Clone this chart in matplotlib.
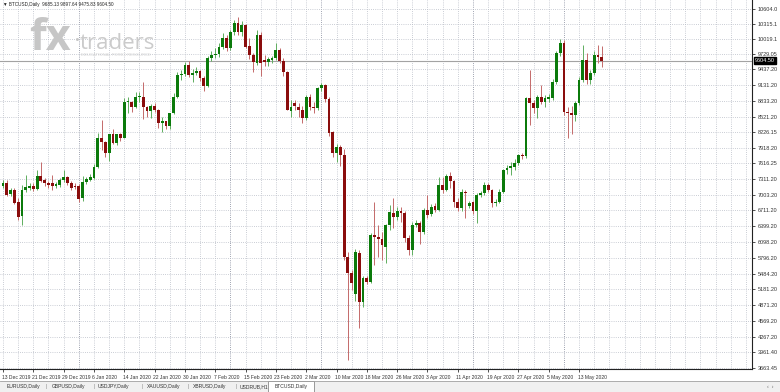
import numpy as np
import pandas as pd
import matplotlib
matplotlib.use("Agg")
import matplotlib.pyplot as plt
from matplotlib.patches import Rectangle
from matplotlib.transforms import blended_transform_factory, ScaledTranslation

plt.rcParams['font.family'] = ['Liberation Sans', 'DejaVu Sans']

# BTCUSD daily bars, one per day starting 13 Dec 2019
first_day = "2019-12-13"
opens = [7190, 7240, 7020, 7100, 6870, 6600, 7110, 7150, 7190, 7130,
         7380, 7290, 7240, 7230, 7190, 7200, 7290, 7350, 7240, 7190,
         7180, 6940, 7260, 7300, 7340, 7550, 8100, 8040, 7810, 8190,
         8020, 8180, 8110, 8810, 8810, 8710, 8900, 8910, 8700, 8630,
         8730, 8660, 8390, 8430, 8340, 8590, 8900, 9330, 9340, 9521,
         9330, 9360, 9400, 9264, 9120, 9650, 9714, 9730, 9875, 10040,
         9850, 10165, 10330, 10160, 10295, 9890, 9714, 9560, 10101, 9620,
         9570, 9620, 9650, 9811, 9590, 9380, 8640, 8780, 8714, 8650,
         8490, 8908, 8700, 8690, 9070, 9134, 8860, 8230, 7810, 7940,
         7780, 5813, 5492, 5100, 5880, 4943, 5395, 5330, 6234, 6200,
         6150, 6010, 6427, 6665, 6590, 6700, 6660, 6170, 5943, 6427,
         6470, 6300, 6717, 6640, 6790, 6717, 7200, 7104, 7370, 7280,
         6877, 6750, 7070, 6790, 6877, 6690, 7010, 7040, 7200, 7104,
         6850, 6880, 7070, 7490, 7520, 7550, 7620, 7790, 7760, 8877,
         8780, 8684, 8908, 8810, 8860, 8890, 9198, 9750, 9940, 8620,
         8590, 8560, 8780, 9231, 9618, 9231, 9360, 9714, 9685.13]
highs = [7300, 7300, 7140, 7140, 6950, 7200, 7390, 7230, 7230, 7500,
         7640, 7330, 7280, 7390, 7260, 7340, 7490, 7380, 7280, 7230,
         7220, 7380, 7350, 7420, 7600, 8200, 8450, 8050, 8190, 8290,
         8190, 8200, 8880, 8900, 8830, 9000, 8990, 9190, 8720, 8760,
         8790, 8670, 8520, 8440, 8600, 8980, 9390, 9420, 9580, 9600,
         9450, 9480, 9430, 9300, 9700, 9800, 9850, 9950, 10140, 10100,
         10200, 10390, 10455, 10380, 10320, 10050, 9750, 10200, 10150, 9714,
         9680, 9700, 9940, 9850, 9650, 9400, 8840, 8840, 8780, 8720,
         8950, 8960, 8800, 9100, 9170, 9150, 8900, 8250, 8000, 7980,
         7900, 5900, 5556, 5960, 5950, 5450, 5450, 6280, 6877, 6427,
         6300, 6450, 6813, 6943, 6780, 6780, 6700, 6230, 6480, 6520,
         6500, 6760, 7007, 6840, 6860, 7360, 7360, 7420, 7460, 7300,
         6950, 7120, 7100, 6900, 6900, 7050, 7080, 7260, 7240, 7130,
         6930, 7120, 7510, 7580, 7640, 7700, 7800, 7820, 8900, 9424,
         8850, 8950, 9134, 8950, 8960, 9250, 9800, 10020, 10000, 8700,
         8720, 8820, 9280, 9908, 9750, 9420, 9800, 9908, 9897.64]
lows = [7150, 6980, 6980, 6830, 6530, 6430, 7060, 7110, 7080, 7100,
        7250, 7180, 7150, 7100, 7150, 7170, 7260, 7200, 7110, 7120,
        6870, 6900, 7220, 7280, 7320, 7520, 7870, 7750, 7670, 8000,
        7970, 8060, 8100, 8600, 8610, 8680, 8810, 8470, 8520, 8500,
        8610, 8300, 8230, 8280, 8290, 8580, 8880, 9230, 9300, 9280,
        9200, 9320, 9220, 9010, 9100, 9600, 9650, 9680, 9830, 9800,
        9820, 10100, 10100, 10080, 9850, 9630, 9390, 9520, 9300, 9500,
        9500, 9560, 9620, 9550, 9300, 8650, 8520, 8650, 8520, 8400,
        8460, 8650, 8600, 8650, 9020, 8800, 8150, 7750, 7650, 7570,
        5750, 3816, 5170, 4950, 4430, 4850, 5280, 5300, 5653, 5813,
        5750, 5685, 6330, 6368, 6523, 6490, 6100, 5846, 5846, 6380,
        6060, 6250, 6560, 6600, 6680, 6700, 7050, 7080, 7150, 6780,
        6700, 6700, 6560, 6760, 6640, 6460, 6960, 7000, 7060, 6780,
        6800, 6850, 7050, 7420, 7400, 7500, 7580, 7700, 7720, 8360,
        8600, 8490, 8760, 8700, 8800, 8850, 9150, 9700, 8550, 8100,
        8180, 8430, 8750, 9200, 9150, 9150, 9330, 9560, 9475.83]
closes = [7240, 7010, 7100, 6850, 6580, 7110, 7170, 7190, 7130, 7380,
          7280, 7240, 7200, 7180, 7220, 7300, 7350, 7240, 7150, 7160,
          6920, 7260, 7310, 7360, 7550, 8100, 8040, 7810, 8190, 8020,
          8180, 8110, 8810, 8820, 8710, 8900, 8910, 8700, 8630, 8730,
          8660, 8390, 8430, 8340, 8590, 8900, 9330, 9340, 9521, 9328,
          9360, 9410, 9264, 9110, 9650, 9714, 9740, 9875, 10040, 9850,
          10165, 10330, 10160, 10295, 9875, 9714, 9585, 10101, 9560, 9585,
          9630, 9650, 9811, 9590, 9380, 8660, 8714, 8720, 8650, 8490,
          8908, 8700, 8680, 9070, 9134, 8860, 8206, 7810, 7940, 7780,
          5813, 5492, 5300, 5910, 4943, 5395, 5330, 6234, 6200, 6150,
          6040, 6427, 6685, 6590, 6700, 6660, 6170, 5943, 6427, 6470,
          6300, 6717, 6620, 6780, 6717, 7200, 7104, 7370, 7280, 6877,
          6750, 7070, 7040, 6860, 6690, 7007, 7040, 7200, 7104, 6850,
          6880, 7070, 7490, 7520, 7560, 7620, 7790, 7760, 8877, 8780,
          8684, 8908, 8810, 8880, 8908, 9198, 9750, 9940, 8620, 8590,
          8560, 8780, 9231, 9618, 9231, 9360, 9714, 9685, 9604.50]

price_ticks = [10604.0, 10315.1, 10019.1, 9729.05, 9437.20, 9131.20, 8833.20,
               8521.20, 8226.15, 7918.20, 7616.25, 7311.20, 7003.20, 6711.20,
               6399.20, 6098.20, 5796.20, 5484.20, 5181.20, 4871.20, 4569.20,
               4267.20, 3961.40, 3663.45]
price_tick_labels = ["10604.0", "10315.1", "10019.1", "9729.05", "9437.20", "9131.20",
                     "8833.20", "8521.20", "8226.15", "7918.20", "7616.25", "7311.20",
                     "7003.20", "6711.20", "6399.20", "6098.20", "5796.20", "5484.20",
                     "5181.20", "4871.20", "4569.20", "4267.20", "3961.40", "3663.45"]
last_price = 9604.50
header = "\u25bc BTCUSD,Daily  9685.13 9897.64 9475.83 9604.50"
tabs = ["EURUSD,Daily", "GBPUSD,Daily", "USDJPY,Daily", "XAUUSD,Daily",
        "XBRUSD,Daily", "USDRUB,H1", "BTCUSD,Daily"]

W, H = 780, 392
BULL, BEAR = "#0b7a0b", "#8a0d0d"
BULL_WICK, BEAR_WICK = "#5fae5f", "#c46a6a"
GRID = "#b9bdc7"

o, h, l, c = (np.array(v, dtype=float) for v in (opens, highs, lows, closes))
days = np.arange(len(c))
dates = pd.date_range(first_day, periods=len(c), freq="D")

fig = plt.figure(figsize=(W / 100, H / 100), dpi=100)
fig.patch.set_facecolor("white")
ax = fig.add_axes([0, 23 / H, 752 / W, 369 / H])
ax.set_xlim(-3 / 3.79, 749 / 3.79)
ax.set_ylim(3642, 10778)

# dotted grid: one vertical line every 4 bars, one horizontal per price label
for d in range(0, 200, 4):
    col = "#7f8596" if d in (20, 60, 84, 124, 148) else GRID
    ax.axvline(d, color=col, lw=0.6, ls=(0, (1, 1.6)), zorder=1)
for p in price_ticks:
    ax.axhline(p, color=GRID, lw=0.6, ls=(0, (1, 1.6)), zorder=1)

ax.axhline(last_price, color="#a3a3a3", lw=0.8, zorder=2)

# candles
up = c >= o
lo_w = np.minimum(l, np.minimum(o, c))
hi_w = np.maximum(h, np.maximum(o, c))
body_lo = np.minimum(o, c)
body_h = np.maximum(np.abs(c - o), 14)
ax.vlines(days[up], lo_w[up], hi_w[up], color=BULL_WICK, lw=0.7, zorder=3)
ax.vlines(days[~up], lo_w[~up], hi_w[~up], color=BEAR_WICK, lw=0.7, zorder=3)
ax.bar(days[up], body_h[up], bottom=body_lo[up], width=0.74, color=BULL, lw=0, zorder=4)
ax.bar(days[~up], body_h[~up], bottom=body_lo[~up], width=0.74, color=BEAR, lw=0, zorder=4)

# axes frame
for s in ("top", "left"):
    ax.spines[s].set_visible(False)
for s in ("right", "bottom"):
    ax.spines[s].set_color("#222222")
    ax.spines[s].set_linewidth(0.8)

ax.yaxis.tick_right()
ax.set_yticks(price_ticks)
ax.set_yticklabels(price_tick_labels)
ax.tick_params(axis="y", length=2, width=0.6, pad=2, labelsize=4.0, colors="#333333")

label_days = days[::8]
ax.set_xticks(label_days)
ax.set_xticklabels([f"{dt.day} {dt:%b %Y}" for dt in dates[::8]], ha="left")
ax.tick_params(axis="x", length=2.5, width=0.6, pad=2, labelsize=3.6, colors="#333333")
shift = ScaledTranslation(-1.5 / 100, 0, fig.dpi_scale_trans)
for lab in ax.get_xticklabels():
    lab.set_transform(lab.get_transform() + shift)

# current price box on the price scale
trans = blended_transform_factory(ax.transAxes, ax.transData)
ax.annotate(f"{last_price:.2f}", xy=(1, last_price), xycoords=trans,
            xytext=(2.2, 0), textcoords="offset points", ha="left", va="center",
            fontsize=4.0, color="white", zorder=6, annotation_clip=False,
            bbox=dict(boxstyle="square,pad=0.18", fc="black", ec="black"))

# header line and watermark
fig.text(3 / W, 1 - 4.5 / H, header, fontsize=3.3, color="#222222", va="center", ha="left")
fig.text(29 / W, 1 - 50 / H, "fx", fontsize=31, fontweight="bold", color="#c6c6c6",
         family=["Open Sans", "DejaVu Sans"], va="baseline", ha="left")
fig.text(75 / W, 1 - 41 / H, "\u00b7", fontsize=12, fontweight="bold", color="#c6c6c6",
         family=["Open Sans", "DejaVu Sans"], va="center", ha="left")
fig.text(80 / W, 1 - 49 / H, "traders", fontsize=16, color="#cbcbcb",
         family=["Open Sans", "DejaVu Sans"], va="baseline", ha="left")
fig.text(81 / W, 1 - 55.5 / H, "EDUCATIONAL FOREX RESOURCE", fontsize=3.0, color="#d2d2d2",
         va="center", ha="left")

# symbol tabs at the bottom
fig.patches.append(Rectangle((0, 0), 1, 11 / H, transform=fig.transFigure,
                             fc="#f0f0f0", ec="none", zorder=0))
fig.lines.append(plt.Line2D([0, 1], [11 / H, 11 / H], transform=fig.transFigure,
                            color="#a0a0a0", lw=0.6))
fig.patches.append(Rectangle((268 / W, 0), 46 / W, 11.5 / H, transform=fig.transFigure,
                             fc="white", ec="#8a8a8a", lw=0.6, zorder=1))
tab_x = [7, 52, 98, 147, 193, 240, 275]
sep_x = [45, 93, 142, 188, 235]
for x, name in zip(tab_x, tabs):
    fig.text(x / W, 5.5 / H, name, fontsize=3.6, color="#333333", va="center", ha="left", zorder=3)
for x in sep_x:
    fig.text(x / W, 5.5 / H, "|", fontsize=3.6, color="#888888", va="center", ha="left")
fig.text(767 / W, 5.5 / H, "\u2039  \u203a", fontsize=3.8, color="#666666", va="center", ha="left")

fig.savefig("out.png", dpi=100, facecolor="white")
